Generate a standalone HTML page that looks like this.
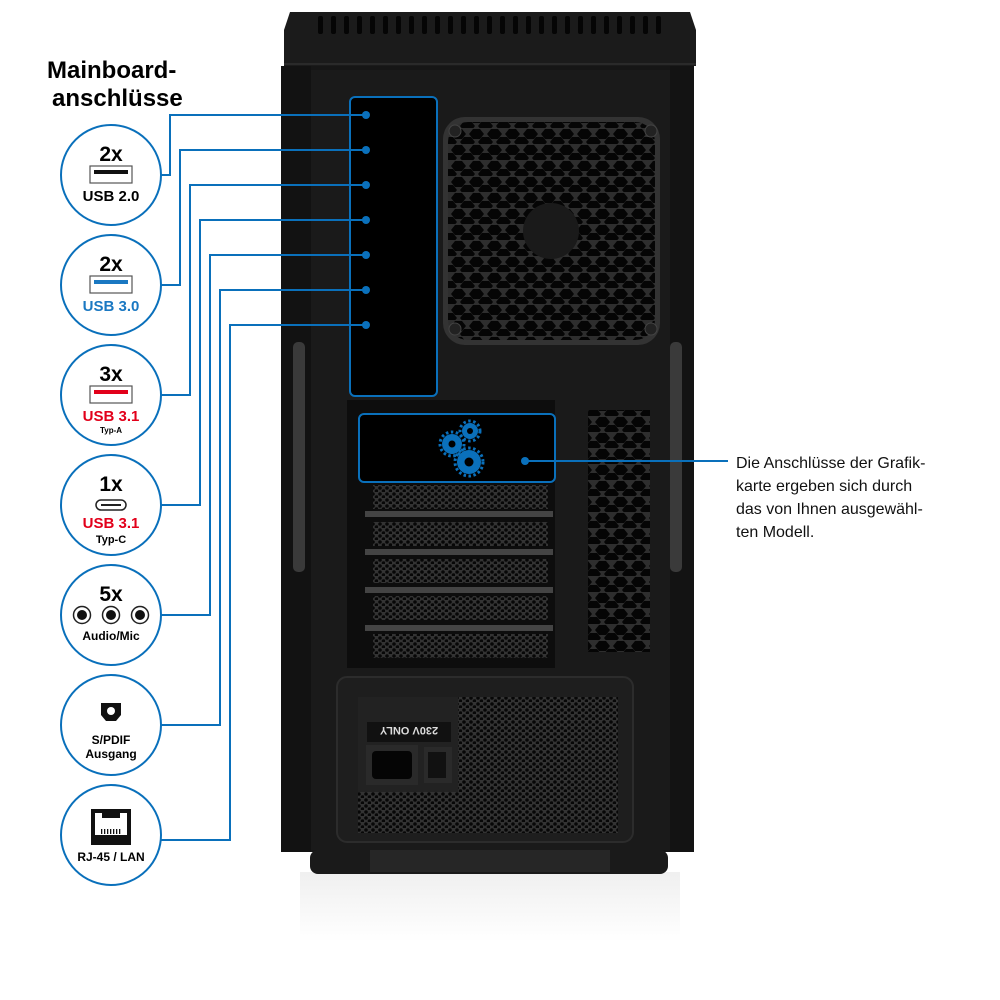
<!DOCTYPE html>
<html><head><meta charset="utf-8"><style>
html,body{margin:0;padding:0;background:#fff;}
svg{display:block;}
text{font-family:"Liberation Sans",sans-serif;}
</style></head><body>
<svg width="1000" height="1000" viewBox="0 0 1000 1000" xmlns="http://www.w3.org/2000/svg">
<defs>
<pattern id="hex" width="18" height="16" patternUnits="userSpaceOnUse">
<rect width="18" height="16" fill="#2e2e2e"/>
<polygon points="4,0 11,0 15,5 11,10 4,10 0,5" fill="#050505" transform="translate(1,1)"/>
<polygon points="4,0 11,0 15,5 11,10 4,10 0,5" fill="#050505" transform="translate(10,9)"/>
<polygon points="4,0 11,0 15,5 11,10 4,10 0,5" fill="#050505" transform="translate(-8,9)"/>
</pattern>
<pattern id="hexs" width="7" height="6" patternUnits="userSpaceOnUse">
<rect width="7" height="6" fill="#333"/>
<circle cx="2" cy="2" r="1.8" fill="#070707"/>
<circle cx="5.5" cy="5" r="1.8" fill="#070707"/>
</pattern>
<linearGradient id="refl" x1="0" y1="0" x2="0" y2="1">
<stop offset="0" stop-color="#e0e0e0"/><stop offset="1" stop-color="#fff"/>
</linearGradient>
</defs>

<rect x="300" y="872" width="380" height="70" fill="url(#refl)" opacity="0.5"/>

<path d="M290,12 L690,12 L696,30 L696,66 L284,66 L284,30 Z" fill="#1b1b1b"/>
<g fill="#050505">
<rect x="318" y="16" width="5" height="18" rx="2"/><rect x="331" y="16" width="5" height="18" rx="2"/><rect x="344" y="16" width="5" height="18" rx="2"/><rect x="357" y="16" width="5" height="18" rx="2"/><rect x="370" y="16" width="5" height="18" rx="2"/><rect x="383" y="16" width="5" height="18" rx="2"/><rect x="396" y="16" width="5" height="18" rx="2"/><rect x="409" y="16" width="5" height="18" rx="2"/><rect x="422" y="16" width="5" height="18" rx="2"/><rect x="435" y="16" width="5" height="18" rx="2"/><rect x="448" y="16" width="5" height="18" rx="2"/><rect x="461" y="16" width="5" height="18" rx="2"/><rect x="474" y="16" width="5" height="18" rx="2"/><rect x="487" y="16" width="5" height="18" rx="2"/><rect x="500" y="16" width="5" height="18" rx="2"/><rect x="513" y="16" width="5" height="18" rx="2"/><rect x="526" y="16" width="5" height="18" rx="2"/><rect x="539" y="16" width="5" height="18" rx="2"/><rect x="552" y="16" width="5" height="18" rx="2"/><rect x="565" y="16" width="5" height="18" rx="2"/><rect x="578" y="16" width="5" height="18" rx="2"/><rect x="591" y="16" width="5" height="18" rx="2"/><rect x="604" y="16" width="5" height="18" rx="2"/><rect x="617" y="16" width="5" height="18" rx="2"/><rect x="630" y="16" width="5" height="18" rx="2"/><rect x="643" y="16" width="5" height="18" rx="2"/><rect x="656" y="16" width="5" height="18" rx="2"/>
</g>
<line x1="284" y1="64" x2="696" y2="64" stroke="#2a2a2a" stroke-width="2"/>

<rect x="281" y="66" width="413" height="786" fill="#161616"/>
<rect x="310" y="70" width="360" height="780" fill="#1a1a1a"/>
<rect x="281" y="66" width="30" height="786" fill="#121212"/>
<rect x="670" y="66" width="24" height="786" fill="#131313"/>
<rect x="293" y="342" width="12" height="230" rx="5" fill="#3a3a3a"/>
<rect x="670" y="342" width="12" height="230" rx="5" fill="#3a3a3a"/>
<rect x="310" y="850" width="358" height="24" rx="8" fill="#1a1a1a"/>
<rect x="370" y="850" width="240" height="22" fill="#262626"/>

<rect x="443" y="117" width="217" height="228" rx="22" fill="#333"/>
<rect x="448" y="122" width="207" height="218" rx="20" fill="url(#hex)"/>
<circle cx="551" cy="231" r="28" fill="#1a1a1a"/>
<circle cx="455" cy="131" r="6" fill="#222" stroke="#444"/><circle cx="651" cy="131" r="6" fill="#222" stroke="#444"/>
<circle cx="455" cy="329" r="6" fill="#222" stroke="#444"/><circle cx="651" cy="329" r="6" fill="#222" stroke="#444"/>

<rect x="347" y="400" width="208" height="268" fill="#0d0d0d"/>
<g>
<rect x="373" y="485" width="175" height="24" fill="url(#hexs)"/>
<rect x="365" y="511" width="188" height="6" fill="#444"/>
<rect x="373" y="522" width="175" height="24" fill="url(#hexs)"/>
<rect x="365" y="549" width="188" height="6" fill="#444"/>
<rect x="373" y="559" width="175" height="24" fill="url(#hexs)"/>
<rect x="365" y="587" width="188" height="6" fill="#444"/>
<rect x="373" y="596" width="175" height="24" fill="url(#hexs)"/>
<rect x="365" y="625" width="188" height="6" fill="#444"/>
<rect x="373" y="634" width="175" height="24" fill="url(#hexs)"/>
</g>
<rect x="588" y="410" width="62" height="242" fill="url(#hex)"/>

<rect x="337" y="677" width="296" height="165" rx="10" fill="#1e1e1e" stroke="#2c2c2c" stroke-width="2"/>
<rect x="358" y="697" width="260" height="136" fill="url(#hexs)"/>
<rect x="358" y="697" width="100" height="95" fill="#222"/>
<rect x="367" y="722" width="84" height="20" fill="#111"/>
<text x="409" y="737" font-size="11" font-weight="bold" fill="#ddd" text-anchor="middle" transform="rotate(180 409 732)">230V ONLY</text>
<rect x="366" y="745" width="52" height="40" fill="#2a2a2a"/>
<rect x="372" y="751" width="40" height="28" rx="4" fill="#050505"/>
<rect x="424" y="747" width="28" height="36" fill="#2a2a2a"/>
<rect x="428" y="752" width="18" height="26" fill="#111"/>

<rect x="350" y="97" width="87" height="299" rx="5" fill="#000" stroke="#0a70bb" stroke-width="2"/>
<rect x="359" y="414" width="196" height="68" rx="5" fill="#000" stroke="#0a70bb" stroke-width="2"/>
<g fill="#0a70bb">
<circle cx="452" cy="444" r="10"/><circle cx="470" cy="431" r="8"/><circle cx="469" cy="462" r="12"/>
<g stroke="#0a70bb" stroke-width="3" stroke-dasharray="2.5 2.5"><circle cx="452" cy="444" r="12" fill="none"/><circle cx="470" cy="431" r="10" fill="none"/><circle cx="469" cy="462" r="14" fill="none"/></g>
<circle cx="452" cy="444" r="3.5" fill="#000"/><circle cx="470" cy="431" r="3" fill="#000"/><circle cx="469" cy="462" r="4.5" fill="#000"/>
</g>

<g fill="none" stroke="#0a70bb" stroke-width="2">
<polyline points="161,175 170,175 170,115 366,115"/>
<polyline points="161,285 180,285 180,150 366,150"/>
<polyline points="161,395 190,395 190,185 366,185"/>
<polyline points="161,505 200,505 200,220 366,220"/>
<polyline points="161,615 210,615 210,255 366,255"/>
<polyline points="161,725 220,725 220,290 366,290"/>
<polyline points="161,840 230,840 230,325 366,325"/>
<line x1="525" y1="461" x2="728" y2="461"/>
</g>
<g fill="#0a70bb">
<circle cx="366" cy="115" r="4"/><circle cx="366" cy="150" r="4"/><circle cx="366" cy="185" r="4"/><circle cx="366" cy="220" r="4"/><circle cx="366" cy="255" r="4"/><circle cx="366" cy="290" r="4"/><circle cx="366" cy="325" r="4"/><circle cx="525" cy="461" r="4"/>
</g>

<text x="47" y="78" font-size="24" font-weight="bold" fill="#000">Mainboard-</text>
<text x="52" y="106" font-size="24" font-weight="bold" fill="#000">anschlüsse</text>

<g fill="#fff" stroke="#0a70bb" stroke-width="2">
<circle cx="111" cy="175" r="50"/><circle cx="111" cy="285" r="50"/><circle cx="111" cy="395" r="50"/>
<circle cx="111" cy="505" r="50"/><circle cx="111" cy="615" r="50"/><circle cx="111" cy="725" r="50"/><circle cx="111" cy="835" r="50"/>
</g>
<g font-weight="bold" text-anchor="middle">
<text x="111" y="161" font-size="21">2x</text>
<rect x="90" y="166" width="42" height="17" fill="#fff" stroke="#555" stroke-width="1.2"/>
<rect x="94" y="170" width="34" height="4" fill="#111"/>
<text x="111" y="201" font-size="15">USB 2.0</text>

<text x="111" y="271" font-size="21">2x</text>
<rect x="90" y="276" width="42" height="17" fill="#fff" stroke="#555" stroke-width="1.2"/>
<rect x="94" y="280" width="34" height="4" fill="#1a78c2"/>
<text x="111" y="311" font-size="15" fill="#1a78c2">USB 3.0</text>

<text x="111" y="381" font-size="21">3x</text>
<rect x="90" y="386" width="42" height="17" fill="#fff" stroke="#555" stroke-width="1.2"/>
<rect x="94" y="390" width="34" height="4" fill="#e2001a"/>
<text x="111" y="421" font-size="15" fill="#e2001a">USB 3.1</text>
<text x="111" y="433" font-size="8">Typ-A</text>

<text x="111" y="491" font-size="21">1x</text>
<rect x="96" y="500" width="30" height="10" rx="5" fill="#fff" stroke="#222" stroke-width="1.5"/>
<rect x="101" y="504" width="20" height="2" fill="#222"/>
<text x="111" y="528" font-size="15" fill="#e2001a">USB 3.1</text>
<text x="111" y="543" font-size="11">Typ-C</text>

<text x="111" y="601" font-size="21">5x</text>
<text x="111" y="640" font-size="12">Audio/Mic</text>
<text x="111" y="744" font-size="12">S/PDIF</text>
<text x="111" y="758" font-size="12">Ausgang</text>
<text x="111" y="861" font-size="12">RJ-45 / LAN</text>
</g>
<g fill="#fff" stroke="#222" stroke-width="1.5">
<circle cx="82" cy="615" r="8.5"/><circle cx="111" cy="615" r="8.5"/><circle cx="140" cy="615" r="8.5"/>
</g>
<g fill="#111"><circle cx="82" cy="615" r="5"/><circle cx="111" cy="615" r="5"/><circle cx="140" cy="615" r="5"/></g>
<path d="M101,703 L121,703 L121,715 L116,721 L106,721 L101,715 Z" fill="#111"/>
<circle cx="111" cy="711" r="4" fill="#fff"/>
<rect x="91" y="809" width="40" height="36" fill="#111"/>
<path d="M95,813 L127,813 L127,835 L95,835 Z" fill="#fff"/>
<path d="M95,813 L102,813 L102,818 L120,818 L120,813 L127,813" fill="#111"/>
<g fill="#111"><rect x="101" y="829" width="1.3" height="5"/><rect x="104" y="829" width="1.3" height="5"/><rect x="107" y="829" width="1.3" height="5"/><rect x="110" y="829" width="1.3" height="5"/><rect x="113" y="829" width="1.3" height="5"/><rect x="116" y="829" width="1.3" height="5"/><rect x="119" y="829" width="1.3" height="5"/></g>

<g font-size="16" fill="#111">
<text x="736" y="468">Die Anschlüsse der Grafik-</text>
<text x="736" y="491">karte ergeben sich durch</text>
<text x="736" y="514">das von Ihnen ausgewähl-</text>
<text x="736" y="537">ten Modell.</text>
</g>
</svg>
</body></html>
